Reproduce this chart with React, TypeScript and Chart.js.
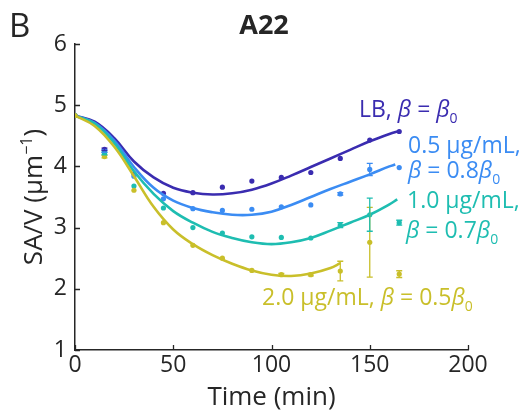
import React, { useEffect, useRef } from "react";
import { Chart, registerables } from "chart.js";
Chart.register(...registerables);

const FONT = "'Open Sans', 'Noto Sans', sans-serif";
const INK = "#262626";

const COLOR_LB = "#3a2cb0";
const COLOR_05 = "#3b8cf3";
const COLOR_10 = "#1ebdb1";
const COLOR_20 = "#c9bf2a";

// x ticks / y ticks
const xTicks = [0, 50, 100, 150, 200];
const yTicks = [1, 2, 3, 4, 5, 6];

// Measured samples
const sampleTimes = [0, 15, 30, 45, 60, 75, 90, 105, 120, 135, 150, 165];
const sampleLB = [4.83, 4.28, 3.88, 3.56, 3.57, 3.66, 3.76, 3.82, 3.9, 4.13, 4.43, 4.57];
const sample05 = [4.83, 4.25, 3.84, 3.47, 3.31, 3.28, 3.3, 3.34, 3.37, 3.55, 3.95, 3.98];
const sample10 = [4.83, 4.21, 3.68, 3.32, 3.0, 2.91, 2.85, 2.84, 2.83, 3.04, 3.21, 3.08];
const sample20 = [4.83, 4.16, 3.61, 3.08, 2.71, 2.5, 2.3, 2.23, 2.23, 2.29, 2.76, 2.24];
const errLB = [0, 0.02, 0, 0, 0, 0, 0, 0, 0, 0, 0, 0];
const err05 = [0, 0.02, 0, 0, 0, 0, 0, 0, 0, 0.02, 0.1, 0];
const err10 = [0, 0.02, 0, 0, 0, 0, 0, 0, 0, 0.04, 0.27, 0.04];
const err20 = [0, 0.02, 0, 0, 0, 0, 0, 0.02, 0.02, 0.16, 0.57, 0.055];

// Model fits
const fitTimesLB = [0, 10, 20, 30, 40, 50, 60, 70, 80, 90, 100, 110, 120, 130, 140, 150, 160, 165];
const fitLB = [4.83, 4.73, 4.46, 4.08, 3.82, 3.65, 3.57, 3.54, 3.56, 3.62, 3.72, 3.85, 3.99, 4.13, 4.27, 4.41, 4.53, 4.58];
const fitTimes05 = [0, 10, 20, 30, 40, 50, 60, 70, 80, 90, 100, 110, 120, 130, 140, 150, 160, 163];
const fit05 = [4.83, 4.71, 4.42, 3.99, 3.65, 3.44, 3.32, 3.25, 3.21, 3.21, 3.26, 3.37, 3.5, 3.63, 3.75, 3.87, 4.0, 4.03];
const fitTimes10 = [0, 10, 20, 30, 40, 50, 60, 70, 80, 90, 100, 110, 120, 130, 140, 150, 160, 164];
const fit10 = [4.83, 4.7, 4.38, 3.92, 3.55, 3.27, 3.08, 2.93, 2.83, 2.76, 2.73, 2.76, 2.83, 2.95, 3.08, 3.21, 3.38, 3.46];
const fitTimes20 = [0, 10, 20, 30, 40, 50, 60, 70, 80, 90, 100, 110, 120, 130, 135];
const fit20 = [4.83, 4.66, 4.32, 3.84, 3.34, 2.97, 2.73, 2.55, 2.41, 2.3, 2.23, 2.21, 2.25, 2.34, 2.42];

type Seg = { t: string; it?: boolean; sub?: boolean; sup?: boolean };

const labelLB: Seg[] = [{ t: "LB, " }, { t: "β", it: true }, { t: " = " }, { t: "β", it: true }, { t: "0", sub: true }];
const label05a: Seg[] = [{ t: "0.5 μg/mL," }];
const label05b: Seg[] = [{ t: "β", it: true }, { t: " = 0.8" }, { t: "β", it: true }, { t: "0", sub: true }];
const label10a: Seg[] = [{ t: "1.0 μg/mL," }];
const label10b: Seg[] = [{ t: "β", it: true }, { t: " = 0.7" }, { t: "β", it: true }, { t: "0", sub: true }];
const label20: Seg[] = [{ t: "2.0 μg/mL, " }, { t: "β", it: true }, { t: " = 0.5" }, { t: "β", it: true }, { t: "0", sub: true }];
const yTitle: Seg[] = [{ t: "SA/V (μm" }, { t: "−1", sup: true }, { t: ")" }];

function fontFor(s: Seg, size: number) {
  const sz = s.sub || s.sup ? Math.round(size * 0.62) : size;
  return `${s.it ? "italic " : ""}${sz}px ${FONT}`;
}
function richWidth(ctx: CanvasRenderingContext2D, segs: Seg[], size: number) {
  let w = 0;
  for (const s of segs) {
    ctx.font = fontFor(s, size);
    w += ctx.measureText(s.t).width;
  }
  return w;
}
function drawRich(ctx: CanvasRenderingContext2D, x: number, y: number, segs: Seg[], size: number, color: string) {
  ctx.fillStyle = color;
  ctx.textBaseline = "alphabetic";
  ctx.textAlign = "left";
  for (const s of segs) {
    ctx.font = fontFor(s, size);
    const dy = s.sub ? size * 0.28 : s.sup ? -size * 0.38 : 0;
    ctx.fillText(s.t, x, y + dy);
    x += ctx.measureText(s.t).width;
  }
}

const pts = (xs: number[], ys: number[]) => xs.map((x, i) => ({ x, y: ys[i] }));

const decorPlugin = {
  id: "decor",
  afterDatasetsDraw(chart: any) {
    const ctx = chart.ctx as CanvasRenderingContext2D;
    const xs = chart.scales.x;
    const ys = chart.scales.y;
    chart.data.datasets.forEach((ds: any) => {
      if (!ds.errorBars) return;
      ctx.save();
      ctx.strokeStyle = ds.pointBackgroundColor;
      ctx.lineWidth = 1.3;
      ds.data.forEach((p: any, i: number) => {
        const e = ds.errorBars[i];
        if (!e) return;
        const px = xs.getPixelForValue(p.x);
        const y1 = ys.getPixelForValue(p.y + e);
        const y2 = ys.getPixelForValue(p.y - e);
        ctx.beginPath();
        ctx.moveTo(px, y1);
        ctx.lineTo(px, y2);
        ctx.moveTo(px - 3, y1);
        ctx.lineTo(px + 3, y1);
        ctx.moveTo(px - 3, y2);
        ctx.lineTo(px + 3, y2);
        ctx.stroke();
      });
      ctx.restore();
    });
  },
  afterDraw(chart: any) {
    const ctx = chart.ctx as CanvasRenderingContext2D;
    const xs = chart.scales.x;
    const ys = chart.scales.y;
    const area = chart.chartArea;
    ctx.save();
    ctx.strokeStyle = INK;
    ctx.lineWidth = 1.3;
    ctx.beginPath();
    xTicks.forEach((v) => {
      const px = Math.round(xs.getPixelForValue(v)) + 0.5;
      ctx.moveTo(px, area.bottom);
      ctx.lineTo(px, area.bottom - 5);
    });
    yTicks.forEach((v) => {
      const py = Math.round(ys.getPixelForValue(v)) + 0.5;
      ctx.moveTo(area.left, py);
      ctx.lineTo(area.left + 5, py);
    });
    ctx.stroke();

    ctx.fillStyle = INK;
    ctx.textAlign = "left";
    ctx.textBaseline = "alphabetic";
    ctx.font = `33px ${FONT}`;
    ctx.fillText("B", 9, 37);
    ctx.textAlign = "center";
    ctx.font = `bold 27px ${FONT}`;
    ctx.fillText("A22", 264, 34);

    ctx.font = `26px ${FONT}`;
    ctx.fillText("Time (min)", (area.left + area.right) / 2, 405);

    ctx.save();
    ctx.translate(42, (area.top + area.bottom) / 2);
    ctx.rotate(-Math.PI / 2);
    const w = richWidth(ctx, yTitle, 26);
    drawRich(ctx, -w / 2, 0, yTitle, 26, INK);
    ctx.restore();

    drawRich(ctx, 359, 117, labelLB, 23, COLOR_LB);
    drawRich(ctx, 408, 153, label05a, 23, COLOR_05);
    drawRich(ctx, 408, 178, label05b, 23, COLOR_05);
    drawRich(ctx, 407, 208, label10a, 23, COLOR_10);
    drawRich(ctx, 406, 238, label10b, 23, COLOR_10);
    drawRich(ctx, 262, 305, label20, 23, COLOR_20);
    ctx.restore();
  },
};

function curve(data: any, color: string) {
  return {
    data,
    borderColor: color,
    backgroundColor: color,
    borderWidth: 2.6,
    pointRadius: 0,
    fill: false,
    tension: 0.4,
  };
}
function samples(data: any, errs: number[], color: string) {
  return {
    data,
    showLine: false,
    borderColor: color,
    pointBackgroundColor: color,
    pointBorderColor: color,
    pointBorderWidth: 0,
    pointRadius: 2.6,
    errorBars: errs,
  };
}

export default function App() {
  const ref = useRef<HTMLCanvasElement>(null);
  useEffect(() => {
    if (!ref.current) return;
    const chart = new Chart(ref.current, {
      type: "line",
      data: {
        datasets: [
          samples(pts(sampleTimes, sample20), err20, COLOR_20),
          curve(pts(fitTimes20, fit20), COLOR_20),
          samples(pts(sampleTimes, sample10), err10, COLOR_10),
          curve(pts(fitTimes10, fit10), COLOR_10),
          samples(pts(sampleTimes, sample05), err05, COLOR_05),
          curve(pts(fitTimes05, fit05), COLOR_05),
          samples(pts(sampleTimes, sampleLB), errLB, COLOR_LB),
          curve(pts(fitTimesLB, fitLB), COLOR_LB),
        ] as any,
      },
      options: {
        responsive: false,
        devicePixelRatio: 1,
        animation: false,
        layout: { padding: { top: 44, right: 60, left: 0, bottom: 0 } },
        plugins: { legend: { display: false }, tooltip: { enabled: false } },
        scales: {
          x: {
            type: "linear",
            min: 0,
            max: 200,
            afterBuildTicks: (s: any) => {
              s.ticks = xTicks.map((v) => ({ value: v }));
            },
            ticks: { font: { family: FONT, size: 23 }, color: INK, padding: 2, maxRotation: 0 },
            grid: { display: false, drawTicks: false },
            border: { display: true, color: INK, width: 1.5 },
            afterFit: (s: any) => {
              s.height = 64;
            },
          },
          y: {
            type: "linear",
            min: 1,
            max: 6,
            afterBuildTicks: (s: any) => {
              s.ticks = yTicks.map((v) => ({ value: v }));
            },
            ticks: { font: { family: FONT, size: 23 }, color: INK, padding: 8 },
            grid: { display: false, drawTicks: false },
            border: { display: true, color: INK, width: 1.5 },
            afterFit: (s: any) => {
              s.width = 75;
            },
          },
        },
      } as any,
      plugins: [decorPlugin],
    });
    return () => chart.destroy();
  }, []);
  return (
    <div style={{ position: "fixed", left: 0, top: 0, width: 528, height: 414, background: "#fff" }}>
      <canvas ref={ref} width={528} height={414} style={{ display: "block", width: 528, height: 414 }} />
    </div>
  );
}
